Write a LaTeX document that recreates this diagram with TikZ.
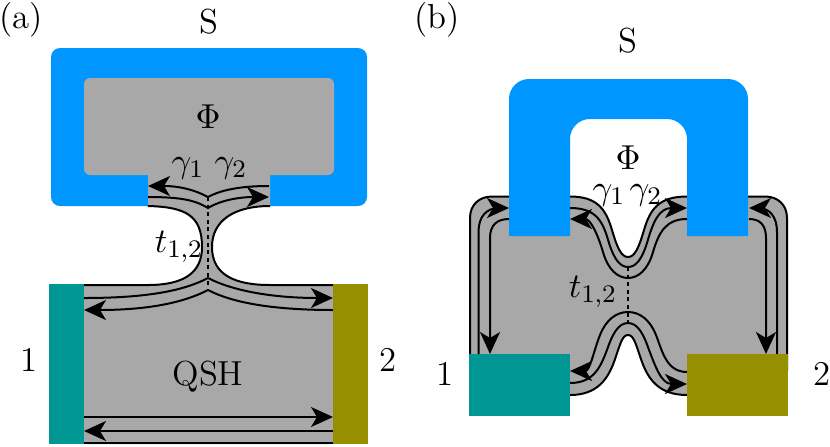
\documentclass[tikz,border=0pt]{standalone}
\usepackage{amsmath}
\usetikzlibrary{arrows.meta}
\definecolor{Sc}{HTML}{0096FF}
\definecolor{Qsh}{HTML}{A8A8A8}
\definecolor{Teal}{HTML}{009693}
\definecolor{Olive}{HTML}{968F00}
\tikzset{
  arr/.style={-{Stealth[length=11pt,width=10pt,inset=3pt]},line width=1pt},
  rarr/.style={{Stealth[length=11pt,width=10pt,inset=3pt]}-,line width=1pt},
  edge/.style={line width=1pt},
  link/.style={line width=1.1pt,dash pattern=on 2pt off 1.8pt},
  lab/.style={inner sep=0pt,scale=1.58,font=\fontsize{11}{13}\selectfont}
}
\begin{document}
\begin{tikzpicture}[x=0.5pt,y=-0.5pt]
  \useasboundingbox (0,0) rectangle (830,446);
  % panel a
  \fill[Sc] (148,206) [rounded corners=4.5pt] -- (51,206) -- (51,48) -- (367,48) -- (367,206) [sharp corners] -- (270,206) -- (270,175) -- (148,175) -- cycle;
  \fill[Qsh,rounded corners=3pt] (84,78) rectangle (334,175);
  \fill[Qsh] (148,170) -- (148,206) .. controls (185,207) and (202,215) .. (202,247) .. controls (202,272) and (185,285) .. (148,285) -- (84,285) -- (84,444) -- (333,444) -- (333,285) -- (270,285) .. controls (235,285) and (212,275) .. (212,247) .. controls (212,220) and (235,206) .. (270,206) -- (270,170) -- cycle;
  \draw[edge] (148,206) .. controls (185,207) and (202,215) .. (202,247) .. controls (202,272) and (185,285) .. (148,285) -- (84,285);
  \draw[edge] (270,206) .. controls (235,206) and (212,220) .. (212,247) .. controls (212,275) and (235,285) .. (270,285) -- (333,285);
  \draw[edge] (84,443) -- (333,443);
  \draw[link] (208,197) -- (208,288);
  \draw[rarr] (148,186) .. controls (180,186) and (195,190) .. (208,197);
  \draw[edge] (208,197) .. controls (221,190) and (240,186) .. (269,186);
  \draw[arr] (148,197) .. controls (180,197) and (195,200) .. (208,208) .. controls (221,200) and (240,197) .. (269,197);
  \draw[edge] (84,298) .. controls (150,298) and (185,290) .. (208,278);
  \draw[arr] (208,278) .. controls (231,290) and (270,298) .. (333,298);
  \draw[rarr] (84,310) .. controls (150,310) and (185,302) .. (208,290) .. controls (231,302) and (270,310) .. (333,310);
  \draw[arr] (84,417) -- (333,417);
  \draw[rarr] (84,431) -- (333,431);
  \fill[Teal] (49,284) rectangle (84,444);
  \fill[Olive] (333,284) rectangle (368,444);
  % panel b
  \draw[edge,fill=Qsh] (470,370) -- (470,218) .. controls (470,205) and (479,196.5) .. (492,196.5) -- (570,196.5) .. controls (598,196.5) and (606,210) .. (612,230) .. controls (617,247) and (621,257) .. (628,257) .. controls (635,257) and (639,247) .. (644,230) .. controls (650,210) and (658,196.5) .. (687,196.5) -- (765,196.5) .. controls (778,196.5) and (787,205) .. (787,218) -- (787,370) -- (697,370) -- (697,395) -- (687,395) .. controls (658,395) and (648,378) .. (642,362) .. controls (636,345) and (634,335) .. (628,335) .. controls (622,335) and (620,345) .. (614,362) .. controls (608,378) and (598,395) .. (570,395) -- (560,395) -- (560,370) -- cycle;
  \draw[arr] (478.5,354) -- (478.5,232) .. controls (478.5,217) and (486,208) .. (499,208) -- (509,208);
  \draw[arr] (509,219) .. controls (497,219) and (490,225) .. (490,238) -- (490,354);
  \draw[arr] (777,354) -- (777,232) .. controls (777,217) and (770,208) .. (758,208) -- (749,208);
  \draw[arr] (749,219) .. controls (760,219) and (766,225) .. (766,238) -- (766,354);
  \draw[arr] (570,208) .. controls (597,208) and (603,222) .. (609,243) .. controls (614,259) and (620,267) .. (628,267) .. controls (636,267) and (642,259) .. (647,243) .. controls (653,222) and (659,208) .. (687,208);
  \draw[rarr] (570,219) .. controls (590,219) and (597,232) .. (603,252) .. controls (608,270) and (618,278) .. (628,278) .. controls (638,278) and (648,270) .. (653,252) .. controls (659,232) and (666,219) .. (687,219);
  \draw[rarr] (570,371) .. controls (590,371) and (594,350) .. (600,335) .. controls (606,320) and (616,312) .. (628,312) .. controls (640,312) and (650,320) .. (656,335) .. controls (662,350) and (666,372) .. (687,372);
  \draw[arr] (570,383) .. controls (595,383) and (601,365) .. (607,350) .. controls (612,335) and (618,323) .. (628,323) .. controls (638,323) and (644,335) .. (649,350) .. controls (655,365) and (661,384) .. (687,384);
  \draw[link] (628,267) -- (628,323);
  \fill[Sc] (509,236) [rounded corners=10pt] -- (509,79) -- (748,79) [sharp corners] -- (748,236) -- (687,236) [rounded corners=10pt] -- (687,119) -- (570,119) [sharp corners] -- (570,236) -- cycle;
  \fill[Teal] (469,354) rectangle (570,416);
  \fill[Olive] (687,354) rectangle (788,416);
  % labels
  \node[lab] (tagA) at (21,20) {(a)};
  \node[lab] (tagB) at (437,20) {(b)};
  \node[lab] (scA) at (209,22) {S};
  \node[lab] (phiA) at (208,117) {$\Phi$};
  \node[lab] (gamA) at (188,168) {$\gamma_1$};
  \node[lab] (gamB) at (231,168) {$\gamma_2$};
  \node[lab] (hopA) at (179,247) {$t_{1,2}$};
  \node[lab] (leadA) at (29,360) {1};
  \node[lab] (leadB) at (388,360) {2};
  \node[lab] (qsh) at (208,377) {QSH};
  \node[lab] (scB) at (628,41) {S};
  \node[lab] (phiB) at (628,158) {$\Phi$};
  \node[lab] (gamC) at (609,195) {$\gamma_1$};
  \node[lab] (gamD) at (646,195) {$\gamma_2$};
  \node[lab] (hopB) at (593,292) {$t_{1,2}$};
  \node[lab] (leadC) at (445,374) {1};
  \node[lab] (leadD) at (822,374) {2};
\end{tikzpicture}
\end{document}
